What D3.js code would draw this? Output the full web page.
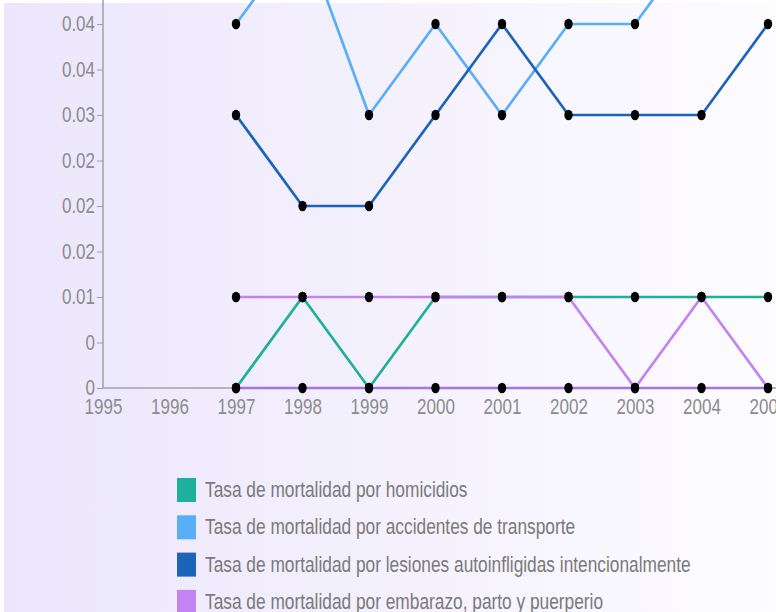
<!DOCTYPE html>
<html>
<head>
    <title>Tasas de mortalidad</title>
    <script src="https://d3js.org/d3.v7.min.js"></script>
    <style>
        body { margin:0; background:#fff; }
        text { font-family: "Liberation Sans", Arial, sans-serif; }
    </style>
</head>
<body>
<svg id="chart" width="776" height="612"></svg>

<script>
    ///////////////////////////////DATA/////////////////////////////////////////////
    var years = [1997, 1998, 1999, 2000, 2001, 2002, 2003, 2004, 2005];
    var homicidios = [0, 0.01, 0, 0.01, 0.01, 0.01, 0.01, 0.01, 0.01];
    var transporte = [0.04, 0.05, 0.03, 0.04, 0.03, 0.04, 0.04, 0.05, 0.05];
    var lesiones   = [0.03, 0.02, 0.02, 0.03, 0.04, 0.03, 0.03, 0.03, 0.04];
    var embarazo   = [0.01, 0.01, 0.01, 0.01, 0.01, 0.01, 0, 0.01, 0];
    var otra       = [0, 0, 0, 0, 0, 0, 0, 0, 0];   // quinta serie, su leyenda queda fuera del cuadro

    var xTicks = [1995, 1996, 1997, 1998, 1999, 2000, 2001, 2002, 2003, 2004, 2005];
    var yTicks = [0, 0.005, 0.01, 0.015, 0.02, 0.025, 0.03, 0.035, 0.04];
    var yTickLabels = ["0", "0", "0.01", "0.02", "0.02", "0.02", "0.03", "0.04", "0.04"];

    var seriesNames = [
        "Tasa de mortalidad por homicidios",
        "Tasa de mortalidad por accidentes de transporte",
        "Tasa de mortalidad por lesiones autoinfligidas intencionalmente",
        "Tasa de mortalidad por embarazo, parto y puerperio"
    ];
    var seriesValues = [homicidios, transporte, lesiones, embarazo, otra];
    var seriesColors = ["#1db09d", "#5aaef7", "#1c63b9", "#c283f3", "#a574e6"];

    var stretch = 1.25; // la imagen original esta estirada en vertical

    /////////////////FONDO/////////////////////////////////////////////
    var svg = d3.select("#chart");
    var defs = svg.append("defs");
    var grad = defs.append("linearGradient")
        .attr("id", "bg")
        .attr("x1", "0%").attr("y1", "0%")
        .attr("x2", "100%").attr("y2", "0%");
    grad.append("stop").attr("offset", "0%").attr("stop-color", "#ebe6fc");
    grad.append("stop").attr("offset", "100%").attr("stop-color", "#fdfcff");

    svg.append("rect")
        .attr("x", 4).attr("y", 3)
        .attr("width", 772).attr("height", 609)
        .attr("fill", "url(#bg)");

    /////////////////ESCALAS Y EJES/////////////////////////////////////////////
    var left = 103, bottom = 388;
    var xScale = d3.scaleLinear()
        .domain([1995, 2005])
        .range([left, 768]);
    var yScale = d3.scaleLinear()
        .domain([0, 0.05])
        .range([bottom, bottom - 455]);

    var xAxis = d3.axisBottom(xScale)
        .tickValues(xTicks)
        .tickFormat(d3.format("d"))
        .tickSize(0)
        .tickPadding(9);
    var gx = svg.append("g")
        .attr("transform", "translate(0," + bottom + ")")
        .call(xAxis);
    gx.select(".domain").attr("d", "M" + left + ",0H776").attr("stroke", "#a0a0a0").attr("stroke-width", 1.5);

    var yAxis = d3.axisLeft(yScale)
        .tickValues(yTicks)
        .tickFormat(function(d, i) { return yTickLabels[i]; })
        .tickSize(6)
        .tickPadding(2);
    var gy = svg.append("g")
        .attr("transform", "translate(" + left + ",0)")
        .call(yAxis);
    gy.select(".domain").attr("d", "M0," + bottom + "V0").attr("stroke", "#a0a0a0").attr("stroke-width", 1.5);
    gy.selectAll(".tick line").attr("stroke", "#a0a0a0");

    svg.selectAll(".tick text")
        .attr("fill", "#8c8c8c")
        .attr("transform", "scale(1," + stretch + ")")
        .style("font-size", "17px");

    /////////////////LINEAS Y PUNTOS/////////////////////////////////////////////
    var line = d3.line()
        .x(function(d, i) { return xScale(years[i]); })
        .y(function(d) { return yScale(d); });

    var series = svg.selectAll("g.serie")
        .data(seriesValues)
        .enter()
        .append("g")
        .attr("class", "serie");

    series.append("path")
        .attr("d", function(d) { return line(d); })
        .attr("fill", "none")
        .attr("stroke", function(d, i) { return seriesColors[i]; })
        .attr("stroke-width", 2.7);

    series.selectAll("ellipse")
        .data(function(d) { return d; })
        .enter()
        .append("ellipse")
        .attr("cx", function(d, i) { return xScale(years[i]); })
        .attr("cy", function(d) { return yScale(d); })
        .attr("rx", 4.2)
        .attr("ry", 5.2)
        .attr("fill", "#000");

    /////////////////LEYENDA/////////////////////////////////////////////
    var legend = svg.selectAll("g.leyenda")
        .data(seriesNames)
        .enter()
        .append("g")
        .attr("class", "leyenda")
        .attr("transform", function(d, i) { return "translate(177," + (490 + i * 37.3) + ")"; });

    legend.append("rect")
        .attr("x", 0).attr("y", -12)
        .attr("width", 19).attr("height", 24)
        .attr("fill", function(d, i) { return seriesColors[i]; });

    legend.append("text")
        .attr("transform", "translate(28,7) scale(1," + stretch + ")")
        .attr("fill", "#7a7a7a")
        .style("font-size", "17.3px")
        .text(function(d) { return d; });
</script>
</body>
</html>
